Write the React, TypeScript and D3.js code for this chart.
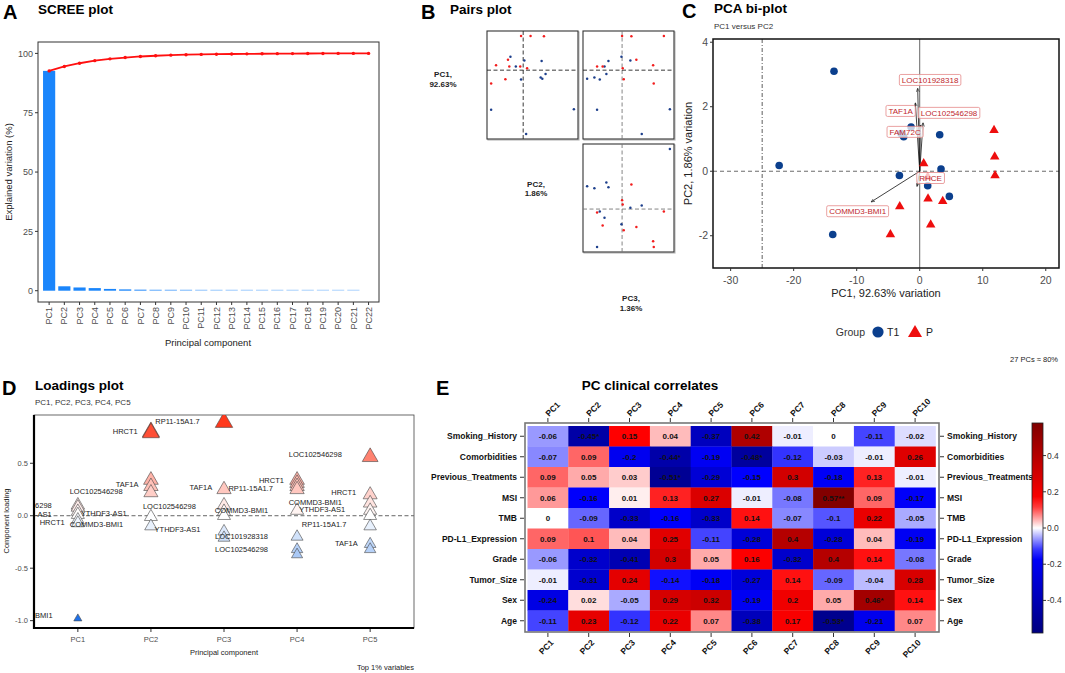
import React from 'react';
import * as d3 from 'd3';

const FONT = '"Liberation Sans", Arial, Helvetica, sans-serif';

// ---------------- A: scree plot ----------------
const screePCs = ['PC1', 'PC2', 'PC3', 'PC4', 'PC5', 'PC6', 'PC7', 'PC8', 'PC9', 'PC10', 'PC11',
  'PC12', 'PC13', 'PC14', 'PC15', 'PC16', 'PC17', 'PC18', 'PC19', 'PC20', 'PC21', 'PC22'];
const screeVariance = [92.63, 1.86, 1.36, 1.1, 0.75, 0.55, 0.45, 0.3, 0.25, 0.2, 0.12,
  0.09, 0.08, 0.06, 0.05, 0.04, 0.03, 0.03, 0.02, 0.02, 0.01, 0.0];
const screeYTicks = [0, 25, 50, 75, 100];

// ---------------- B / C: samples ----------------
const sampleGroup = ['T1', 'T1', 'T1', 'T1', 'T1', 'T1', 'T1', 'T1', 'T1', 'T1', 'T1',
  'P', 'P', 'P', 'P', 'P', 'P', 'P', 'P', 'P', 'P'];
const samplePC1 = [-13.6, -22.3, -13.8, -1.37, -2.96, -2.54, 3.17, -3.22, 3.38, 1.27, 4.7,
  11.79, 11.9, 11.95, 0.63, 1.27, 1.32, 3.65, -3.17, 1.74, -4.65];
const samplePC2 = [3.1, 0.18, -1.96, 1.37, 1.17, 1.07, 1.13, -0.13, 0.07, -0.45, -0.78,
  1.27, 0.45, -0.13, 0.24, -0.18, -0.85, -0.93, -1.09, -1.66, -1.96];
const samplePC3 = [2.31, 0.95, -1.21, -0.76, -1.69, -1.34, -0.66, -1.08, 0.4, -0.85, -0.03,
  0.45, 0.0, 2.02, 0.03, -1.21, -0.94, 0.69, 0.08, 1.5, 1.53];
const pairLabels = [['PC1,', '92.63%'], ['PC2,', '1.86%'], ['PC3,', '1.36%']];

// biplot loadings
const biVars = ['LOC101928318', 'TAF1A', 'LOC102546298', 'FAM72C', 'RHCE', 'COMMD3-BMI1'];
const biArrowX = [-0.32, -0.69, 0.53, 0.1, -0.42, -7.7];
const biArrowY = [2.57, 2.12, 1.5, 1.43, -0.47, -0.95];
const biLabelX = [1.65, -3.03, 4.66, -2.32, 1.73, -9.85];
const biLabelY = [2.83, 1.87, 1.81, 1.22, -0.21, -1.24];
const biXTicks = [-30, -20, -10, 0, 10, 20];
const biYTicks = [-2, 0, 2, 4];

// ---------------- D: loadings ----------------
const loadPCs = ['PC1', 'PC2', 'PC3', 'PC4', 'PC5'];
const loadingsPC1 = [0.1, 0.08, 0.04, 0.01, -0.04, -0.07, -0.98];
const loadingsPC2 = [0.8, 0.79, 0.34, 0.28, 0.22, -0.01, -0.1];
const loadingsPC3 = [0.89, 0.25, 0.1, 0.04, 0.0, -0.15, -0.21];
const loadingsPC4 = [0.34, 0.31, 0.28, 0.25, 0.05, -0.2, -0.32, -0.37];
const loadingsPC5 = [0.56, 0.2, 0.12, 0.05, 0.0, -0.1, -0.27, -0.32];
const loadYTicks = [-1.0, -0.5, 0.0, 0.5];
// repelled labels: text, position along PC axis, loading, anchor
const loadLabels: [string, number, number, string][] = [
  ['RP11-15A1.7', 2.06, 0.9, 'start'],
  ['HRCT1', 1.82, 0.8, 'end'],
  ['TAF1A', 1.83, 0.3, 'end'],
  ['LOC102546298', 1.25, 0.23, 'middle'],
  ['6298', 0.415, 0.095, 'start'],
  ['-AS1', 0.415, 0.01, 'start'],
  ['YTHDF3-AS1', 1.04, 0.02, 'start'],
  ['HRCT1', 0.82, -0.06, 'end'],
  ['COMMD3-BMI1', 0.89, -0.085, 'start'],
  ['BMI1', 0.415, -0.95, 'start'],
  ['LOC102546298', 1.89, 0.09, 'start'],
  ['YTHDF3-AS1', 2.05, -0.13, 'start'],
  ['TAF1A', 2.84, 0.27, 'end'],
  ['RP11-15A1.7', 3.06, 0.26, 'start'],
  ['COMMD3-BMI1', 3.24, 0.05, 'middle'],
  ['LOC101928318', 3.24, -0.2, 'middle'],
  ['LOC102546298', 3.24, -0.32, 'middle'],
  ['LOC102546298', 4.25, 0.58, 'middle'],
  ['HRCT1', 3.82, 0.34, 'end'],
  ['COMMD3-BMI1', 4.25, 0.13, 'middle'],
  ['YTHDF3-AS1', 4.03, 0.06, 'start'],
  ['RP11-15A1.7', 4.37, -0.08, 'middle'],
  ['HRCT1', 4.81, 0.22, 'end'],
  ['TAF1A', 4.83, -0.26, 'end'],
];

// ---------------- E: clinical correlates ----------------
const heatRows = ['Smoking_History', 'Comorbidities', 'Previous_Treatments', 'MSI', 'TMB',
  'PD-L1_Expression', 'Grade', 'Tumor_Size', 'Sex', 'Age'];
const heatCols = ['PC1', 'PC2', 'PC3', 'PC4', 'PC5', 'PC6', 'PC7', 'PC8', 'PC9', 'PC10'];
const heatValues = [
  [-0.06, -0.45, 0.15, 0.04, -0.37, 0.42, -0.01, 0, -0.11, -0.02],
  [-0.07, 0.09, -0.2, -0.44, -0.19, -0.48, -0.12, -0.03, -0.01, 0.26],
  [0.09, 0.05, 0.03, -0.51, -0.29, -0.15, 0.3, -0.18, 0.13, -0.01],
  [0.06, -0.16, 0.01, 0.13, 0.27, -0.01, -0.08, 0.57, 0.09, -0.17],
  [0, -0.09, -0.33, -0.16, -0.33, 0.14, -0.07, -0.1, 0.22, -0.05],
  [0.09, 0.1, 0.04, 0.25, -0.11, -0.28, 0.4, -0.28, 0.04, -0.19],
  [-0.06, -0.32, -0.41, 0.3, 0.05, 0.16, -0.32, 0.4, 0.14, -0.08],
  [-0.01, -0.31, 0.24, -0.14, -0.18, -0.27, 0.14, -0.09, -0.04, 0.28],
  [-0.24, 0.02, -0.05, 0.29, 0.32, -0.19, 0.2, 0.05, 0.46, 0.14],
  [-0.11, 0.23, -0.12, 0.22, 0.07, -0.38, 0.17, -0.53, -0.21, 0.07],
];
const heatStars = [
  ['', '*', '', '', '', '', '', '', '', ''],
  ['', '', '', '*', '', '*', '', '', '', ''],
  ['', '', '', '*', '', '', '', '', '', ''],
  ['', '', '', '', '', '', '', '**', '', ''],
  ['', '', '', '', '', '', '', '', '', ''],
  ['', '', '', '', '', '', '', '', '', ''],
  ['', '', '', '', '', '', '', '', '', ''],
  ['', '', '', '', '', '', '', '', '', ''],
  ['', '', '', '', '', '', '', '', '*', ''],
  ['', '', '', '', '', '', '', '*', '', ''],
];
const legendTicks = [-0.4, -0.2, 0.0, 0.2, 0.4];

// ---------------------------------------------------------------
let canvasCtx: CanvasRenderingContext2D | null = null;
function textWidth(text: string, size: number) {
  if (!canvasCtx) canvasCtx = document.createElement('canvas').getContext('2d');
  if (!canvasCtx) return text.length * size * 0.55;
  canvasCtx.font = `${size}px "Liberation Sans"`;
  return canvasCtx.measureText(text).width;
}

const tri = (w: number) => d3.symbol(d3.symbolTriangle, (w * w * Math.sqrt(3)) / 4)() as string;

const PanelHead = ({ letter, title, x, lx, y }: { letter: string; title: string; x: number; lx: number; y: number }) => (
  <g fontFamily={FONT} fontWeight="bold">
    <text x={lx} y={y + 5} fontSize={20}>{letter}</text>
    <text x={x} y={y} fontSize={13.5}>{title}</text>
  </g>
);

function Scree() {
  const x = d3.scaleBand().domain(screePCs).range([40, 377.7]).padding(0.2);
  const y = d3.scaleLinear().domain([-4.76, 104.8]).range([302, 42]);
  const cum = d3.cumsum(screeVariance);
  const cx = (i: number) => x(screePCs[i])! + x.bandwidth() / 2;
  const line = d3.line<number>().x((_, i) => cx(i)).y((d) => y(d));
  return (
    <g fontFamily={FONT}>
      <PanelHead letter="A" title="SCREE plot" x={38} lx={3} y={14} />
      {screeVariance.map((v, i) => {
        const h = y(0) - y(v);
        if (v <= 0) return null;
        return (
          <rect key={i} x={x(screePCs[i])} width={x.bandwidth()} y={y(0) - Math.max(h, 1)}
            height={Math.max(h, 1)} fill="#1a85fb" fillOpacity={Math.min(1, 0.35 + h / 2)} />
        );
      })}
      <path d={line(Array.from(cum)) ?? ''} fill="none" stroke="#ff1010" strokeWidth={1.8} />
      {Array.from(cum).map((c, i) => <circle key={i} cx={cx(i)} cy={y(c)} r={1.7} fill="#ff1010" />)}
      <rect x={38} y={42} width={341} height={260} fill="none" stroke="#333" strokeWidth={1} />
      {screeYTicks.map((t) => (
        <g key={t}>
          <line x1={35} x2={38} y1={y(t)} y2={y(t)} stroke="#333" />
          <text x={33} y={y(t)} dy="0.35em" textAnchor="end" fontSize={9} fill="#4d4d4d">{t}</text>
        </g>
      ))}
      {screePCs.map((p, i) => (
        <g key={p}>
          <line x1={cx(i)} x2={cx(i)} y1={302} y2={305} stroke="#333" />
          <text transform={`translate(${cx(i)},307) rotate(-90)`} dy="0.35em" textAnchor="end"
            fontSize={9} fill="#4d4d4d">{p}</text>
        </g>
      ))}
      <text x={208} y={346} textAnchor="middle" fontSize={9.5} fill="#222">Principal component</text>
      <text transform="translate(9,172) rotate(-90)" textAnchor="middle" dy="0.35em" fontSize={9.5} fill="#222">
        Explained variation (%)
      </text>
    </g>
  );
}

function Pairs() {
  const vars = [samplePC1, samplePC2, samplePC3];
  const colX = [443, 536, 631];
  const rowY = [85, 198.5, 313];
  const boxes = [
    { xv: 1, yv: 0, x0: 487, y0: 31 },
    { xv: 2, yv: 0, x0: 583, y0: 31 },
    { xv: 2, yv: 1, x0: 583, y0: 144 },
  ];
  const padded = (arr: number[]) => {
    const [a, b] = d3.extent(arr) as [number, number];
    const p = (b - a) * 0.05;
    return [a - p, b + p];
  };
  return (
    <g fontFamily={FONT}>
      <PanelHead letter="B" title="Pairs plot" x={450} lx={421} y={14} />
      {boxes.map((bx, k) => {
        const sx = d3.scaleLinear().domain(padded(vars[bx.xv])).range([bx.x0, bx.x0 + 91]);
        const sy = d3.scaleLinear().domain(padded(vars[bx.yv])).range([bx.y0 + 108, bx.y0]);
        return (
          <g key={k}>
            <rect x={bx.x0 + 1} y={bx.y0 + 1} width={91} height={108} fill="none" stroke="#bbb" strokeWidth={1.2} />
            <rect x={bx.x0} y={bx.y0} width={91} height={108} fill="white" stroke="#333" strokeWidth={1.1} />
            <line x1={sx(0)} x2={sx(0)} y1={bx.y0} y2={bx.y0 + 108} stroke={k === 0 ? '#222' : '#777'} strokeDasharray="4,2.5" strokeWidth={0.9} />
            <line x1={bx.x0} x2={bx.x0 + 91} y1={sy(0)} y2={sy(0)} stroke={k === 2 ? '#777' : '#222'} strokeDasharray="4,2.5" strokeWidth={0.9} />
            {sampleGroup.map((g, i) => (
              <circle key={i} cx={sx(vars[bx.xv][i])} cy={sy(vars[bx.yv][i])} r={1.25}
                fill={g === 'T1' ? '#1d3f8c' : '#f21d1d'} />
            ))}
          </g>
        );
      })}
      {pairLabels.map((l, i) => (
        <text key={i} x={colX[i]} y={i === 0 ? 77 : rowY[i] - 12} textAnchor="middle" fontSize={8} fontWeight="bold" fill="#222">
          <tspan x={colX[i]}>{l[0]}</tspan>
          <tspan x={colX[i]} dy={9.5}>{l[1]}</tspan>
        </text>
      ))}
    </g>
  );
}

function Biplot() {
  const x = d3.scaleLinear().domain([-32.8, 22.1]).range([713, 1059]);
  const y = d3.scaleLinear().domain([-3.0, 4.1]).range([268, 39]);
  return (
    <g fontFamily={FONT}>
      <PanelHead letter="C" title="PCA bi-plot" x={714} lx={682} y={13} />
      <text x={714} y={29} fontSize={8} fill="#333">PC1 versus PC2</text>
      <defs>
        <clipPath id="biclip"><rect x={713} y={39} width={346} height={229} /></clipPath>
        <marker id="arrowHead" viewBox="0 0 10 10" refX="9" refY="5" markerWidth="5" markerHeight="5" orient="auto">
          <path d="M0,1 L9,5 L0,9" fill="none" stroke="#111" strokeWidth={1.4} />
        </marker>
      </defs>
      <g clipPath="url(#biclip)">
        <line x1={x(-25)} x2={x(-25)} y1={39} y2={268} stroke="#333" strokeWidth={0.8} strokeDasharray="4,2,1,2" />
        <line x1={x(0)} x2={x(0)} y1={39} y2={268} stroke="#666" strokeWidth={1} />
        <line x1={713} x2={1059} y1={y(0)} y2={y(0)} stroke="#444" strokeWidth={0.8} strokeDasharray="4,3" />
        {biVars.map((v, i) => (
          <line key={v} x1={x(0)} y1={y(0)} x2={x(biArrowX[i])} y2={y(biArrowY[i])} stroke="#111"
            strokeWidth={0.8} markerEnd="url(#arrowHead)" />
        ))}
        {sampleGroup.map((g, i) =>
          g === 'T1' ? (
            <circle key={i} cx={x(samplePC1[i])} cy={y(samplePC2[i])} r={3.8} fill="#0b3f8d" />
          ) : (
            <path key={i} d={tri(9.5)} transform={`translate(${x(samplePC1[i])},${y(samplePC2[i])})`} fill="#ee0e0e" />
          ),
        )}
        {biVars.map((v, i) => {
          const w = textWidth(v, 8) + 5;
          const cx = x(biLabelX[i]);
          const cy = y(biLabelY[i]);
          return (
            <g key={v}>
              <rect x={cx - w / 2} y={cy - 5.5} width={w} height={11} rx={1.5} fill="white" fillOpacity={0.75}
                stroke="#e48a8a" strokeWidth={0.8} />
              <text x={cx} y={cy} dy="0.35em" textAnchor="middle" fontSize={8} fill="#c0272d">{v}</text>
            </g>
          );
        })}
      </g>
      <rect x={713} y={39} width={346} height={229} fill="none" stroke="#111" strokeWidth={1.5} />
      {biXTicks.map((t) => (
        <g key={t}>
          <line x1={x(t)} x2={x(t)} y1={268} y2={271} stroke="#333" />
          <text x={x(t)} y={284} textAnchor="middle" fontSize={10.5} fill="#4d4d4d">{t}</text>
        </g>
      ))}
      {biYTicks.map((t) => (
        <g key={t}>
          <line x1={710} x2={713} y1={y(t)} y2={y(t)} stroke="#333" />
          <text x={708} y={y(t)} dy="0.35em" textAnchor="end" fontSize={10.5} fill="#4d4d4d">{t}</text>
        </g>
      ))}
      <text x={886} y={297} textAnchor="middle" fontSize={11} fill="#222">PC1, 92.63% variation</text>
      <text transform="translate(688,153.5) rotate(-90)" textAnchor="middle" dy="0.35em" fontSize={11} fill="#222">
        PC2, 1.86% variation
      </text>
      <text x={865} y={332} dy="0.35em" textAnchor="end" fontSize={10.5} fill="#333">Group</text>
      <circle cx={878} cy={332} r={5.6} fill="#0b3f8d" />
      <text x={887} y={332} dy="0.35em" fontSize={10.5} fill="#222">T1</text>
      <path d={tri(14)} transform="translate(915,333)" fill="#ee0e0e" />
      <text x={926} y={332} dy="0.35em" fontSize={10.5} fill="#222">P</text>
      <text x={1058} y={362} textAnchor="end" fontSize={7.5} fill="#222">27 PCs ≈ 80%</text>
    </g>
  );
}

function Loadings() {
  const x = d3.scaleLinear().domain([0.4, 5.6]).range([34, 414]);
  const y = d3.scaleLinear().domain([-1.07, 0.96]).range([628, 415]);
  const fill = d3.scaleLinear<string>().domain([-1, 0, 1]).range(['#1a6ee8', '#ffffff', '#ff2000']);
  const size = d3.scaleLinear().domain([-1, 1]).range([8, 18]);
  const cols = [loadingsPC1, loadingsPC2, loadingsPC3, loadingsPC4, loadingsPC5];
  const points = cols.flatMap((vals, pi) => vals.map((v) => ({ pc: pi + 1, v })));
  return (
    <g fontFamily={FONT}>
      <PanelHead letter="D" title="Loadings plot" x={35} lx={2} y={390} />
      <text x={35} y={405} fontSize={8} fill="#333">PC1, PC2, PC3, PC4, PC5</text>
      <defs>
        <clipPath id="ldclip"><rect x={34} y={415} width={380} height={213} /></clipPath>
      </defs>
      <rect x={34} y={415} width={380} height={213} fill="white" stroke="#444" strokeWidth={0.8} />
      <g clipPath="url(#ldclip)">
        <line x1={34} x2={414} y1={y(0)} y2={y(0)} stroke="#666" strokeWidth={1} strokeDasharray="4,2.5" />
        {points.map((p, i) => (
          <path key={i} d={tri(size(p.v))} transform={`translate(${x(p.pc)},${y(p.v)})`} fill={fill(p.v)}
            stroke="#444" strokeWidth={0.6} />
        ))}
        {loadLabels.map(([t, px, py, a], i) => (
          <text key={i} x={x(px)} y={y(py)} dy="0.35em" textAnchor={a} fontSize={7.5} fill="#222">{t}</text>
        ))}
      </g>
      <line x1={34} x2={34} y1={415} y2={629} stroke="#000" strokeWidth={2.2} />
      <line x1={33} x2={414} y1={628} y2={628} stroke="#000" strokeWidth={2.2} />
      {loadYTicks.map((t) => (
        <g key={t}>
          <line x1={30} x2={33} y1={y(t)} y2={y(t)} stroke="#333" />
          <text x={28} y={y(t)} dy="0.35em" textAnchor="end" fontSize={7.5} fill="#4d4d4d">{t.toFixed(1)}</text>
        </g>
      ))}
      {loadPCs.map((p, i) => (
        <g key={p}>
          <line x1={x(i + 1)} x2={x(i + 1)} y1={629} y2={632} stroke="#333" />
          <text x={x(i + 1)} y={642} textAnchor="middle" fontSize={7.5} fill="#4d4d4d">{p}</text>
        </g>
      ))}
      <text x={224} y={655} textAnchor="middle" fontSize={7.5} fill="#222">Principal component</text>
      <text transform="translate(6,521) rotate(-90)" textAnchor="middle" dy="0.35em" fontSize={7.5} fill="#222">
        Component loading
      </text>
      <text x={414} y={670} textAnchor="end" fontSize={7.5} fill="#222">Top 1% variables</text>
    </g>
  );
}

function Correlates() {
  const x = d3.scaleBand().domain(heatCols).range([527.5, 935.5]);
  const y = d3.scaleBand().domain(heatRows).range([426, 631]);
  const color = d3.scaleLinear<string>()
    .domain([-0.58, -0.15, 0, 0.15, 0.58])
    .range(['#00007f', '#0000ff', '#ffffff', '#ff0000', '#7f0000']);
  const ly = d3.scaleLinear().domain([-0.58, 0.58]).range([633, 423]);
  const stops = d3.range(0, 21).map((k) => -0.58 + (k * 1.16) / 20);
  return (
    <g fontFamily={FONT}>
      <PanelHead letter="E" title="" x={0} lx={436} y={390} />
      <text x={650} y={390} textAnchor="middle" fontSize={13.5} fontWeight="bold">PC clinical correlates</text>
      <defs>
        <linearGradient id="heatGrad" x1="0" x2="0" y1="1" y2="0">
          {stops.map((s, k) => <stop key={k} offset={k / 20} stopColor={color(s)} />)}
        </linearGradient>
      </defs>
      {heatValues.map((row, ri) =>
        row.map((v, ci) => (
          <g key={`${ri}-${ci}`}>
            <rect x={x(heatCols[ci])} y={y(heatRows[ri])} width={x.bandwidth() + 0.3} height={y.bandwidth() + 0.3} fill={color(v)} />
            <text x={x(heatCols[ci])! + x.bandwidth() / 2} y={y(heatRows[ri])! + y.bandwidth() / 2} dy="0.35em"
              textAnchor="middle" fontSize={8} fontWeight="bold" fill="#111">
              {`${v}${heatStars[ri][ci]}`}
            </text>
          </g>
        )),
      )}
      <rect x={525} y={423} width={414} height={209} fill="none" stroke="#777" strokeWidth={1.6} />
      {heatRows.map((r) => {
        const cy = y(r)! + y.bandwidth() / 2;
        return (
          <g key={r}>
            <line x1={520} x2={524} y1={cy} y2={cy} stroke="#333" />
            <text x={517} y={cy} dy="0.35em" textAnchor="end" fontSize={8.5} fontWeight="bold" fill="#111">{r}</text>
            <line x1={940} x2={944} y1={cy} y2={cy} stroke="#333" />
            <text x={947} y={cy} dy="0.35em" fontSize={8.5} fontWeight="bold" fill="#111">{r}</text>
          </g>
        );
      })}
      {heatCols.map((c) => {
        const cx = x(c)! + x.bandwidth() / 2;
        return (
          <g key={c}>
            <line x1={cx} x2={cx} y1={418} y2={422} stroke="#333" />
            <text transform={`translate(${cx + 1},417) rotate(-45)`} fontSize={8.5} fontWeight="bold" fill="#111">{c}</text>
            <line x1={cx} x2={cx} y1={633} y2={637} stroke="#333" />
            <text transform={`translate(${cx + 2},639) rotate(-45)`} dy="0.7em" textAnchor="end" fontSize={8.5}
              fontWeight="bold" fill="#111">{c}</text>
          </g>
        );
      })}
      <rect x={1032} y={423} width={11} height={210} fill="url(#heatGrad)" stroke="#222" strokeWidth={0.8} />
      {legendTicks.map((t) => (
        <g key={t}>
          <line x1={1043} x2={1046} y1={ly(t)} y2={ly(t)} stroke="#333" />
          <text x={1047} y={ly(t)} dy="0.35em" fontSize={8.5} fill="#333">{t.toFixed(1)}</text>
        </g>
      ))}
    </g>
  );
}

export default function App() {
  return (
    <svg width={1065} height={673} viewBox="0 0 1065 673"
      style={{ position: 'absolute', left: 0, top: 0, background: 'white' }}>
      <rect width={1065} height={673} fill="white" />
      <Scree />
      <Pairs />
      <Biplot />
      <Loadings />
      <Correlates />
    </svg>
  );
}
